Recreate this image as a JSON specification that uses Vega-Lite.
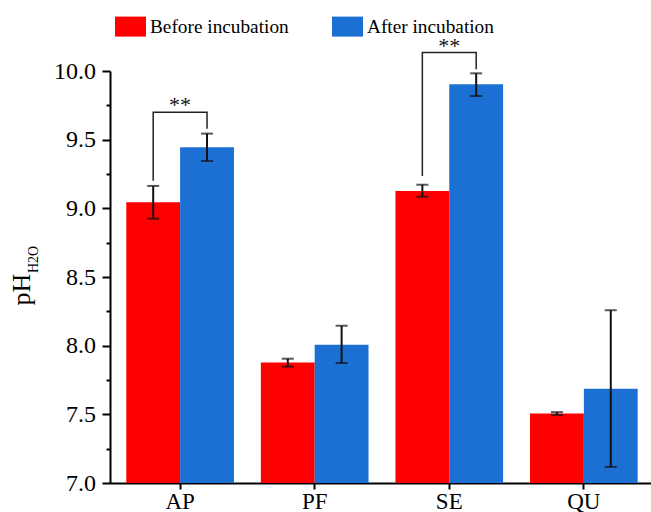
{
  "$schema": "https://vega.github.io/schema/vega-lite/v6.json",
  "width": 541,
  "height": 412,
  "autosize": {"type": "none"},
  "padding": {"left": 110, "top": 71, "right": 0, "bottom": 29},
  "config": {"font": "Liberation Serif", "view": {"stroke": null}, "axis": {"grid": false}},
  "datasets": {
    "bars": [
      {"site": "AP", "group": "Before incubation", "mean": 9.044, "lo": 8.925, "hi": 9.163},
      {"site": "AP", "group": "After incubation", "mean": 9.444, "lo": 9.345, "hi": 9.544},
      {"site": "PF", "group": "Before incubation", "mean": 7.877, "lo": 7.847, "hi": 7.905},
      {"site": "PF", "group": "After incubation", "mean": 8.007, "lo": 7.874, "hi": 8.145},
      {"site": "SE", "group": "Before incubation", "mean": 9.127, "lo": 9.085, "hi": 9.172},
      {"site": "SE", "group": "After incubation", "mean": 9.903, "lo": 9.818, "hi": 9.983},
      {"site": "QU", "group": "Before incubation", "mean": 7.506, "lo": 7.495, "hi": 7.516},
      {"site": "QU", "group": "After incubation", "mean": 7.687, "lo": 7.117, "hi": 8.258}
    ],
    "brackets": [
      {"site": "AP", "group": "Before incubation", "y": 9.2, "k": 1},
      {"site": "AP", "group": "Before incubation", "y": 9.7, "k": 2},
      {"site": "AP", "group": "After incubation", "y": 9.7, "k": 3},
      {"site": "AP", "group": "After incubation", "y": 9.58, "k": 4},
      {"site": "SE", "group": "Before incubation", "y": 9.235, "k": 1},
      {"site": "SE", "group": "Before incubation", "y": 10.134, "k": 2},
      {"site": "SE", "group": "After incubation", "y": 10.134, "k": 3},
      {"site": "SE", "group": "After incubation", "y": 10.012, "k": 4}
    ],
    "stars": [
      {"site": "AP", "y": 9.7, "label": "**"},
      {"site": "SE", "y": 10.134, "label": "**"}
    ]
  },
  "resolve": {"axis": {"y": "independent"}},
  "layer": [
    {
      "data": {"name": "bars"},
      "mark": {"type": "bar"},
      "encoding": {
        "x": {
          "field": "site", "type": "nominal", "sort": ["AP", "PF", "SE", "QU"],
          "scale": {"paddingInner": 0.2, "paddingOuter": 0.11, "align": 0.55},
          "axis": {"title": null, "labelFontSize": 23, "labelColor": "black", "labelAngle": 0, "tickSize": 6, "tickWidth": 2, "tickColor": "black", "domainWidth": 2, "domainColor": "black", "labelPadding": 1}
        },
        "xOffset": {"field": "group", "type": "nominal", "sort": ["Before incubation", "After incubation"], "scale": {"paddingInner": 0, "paddingOuter": 0}},
        "y": {
          "field": "mean", "type": "quantitative",
          "scale": {"domain": [7, 10], "zero": false, "nice": false},
          "axis": {
            "title": "pH", "titleFontSize": 26, "titleFontWeight": "normal", "titleColor": "black",
            "titleAngle": 270, "titleAlign": "center", "titleBaseline": "alphabetic", "titleX": -81, "titleY": 218,
            "values": [7, 7.25, 7.5, 7.75, 8, 8.25, 8.5, 8.75, 9, 9.25, 9.5, 9.75, 10],
            "labelExpr": "datum.value % 0.5 === 0 ? format(datum.value, '.1f') : ''",
            "labelFontSize": 24, "labelColor": "black", "labelPadding": 6.5, "labelFlush": false, "labelOverlap": false,
            "tickSize": {"condition": {"test": "datum.value % 0.5 !== 0", "value": 4}, "value": 8},
            "tickColor": "black", "tickWidth": 2, "domainColor": "black", "domainWidth": 2
          }
        },
        "y2": {"datum": 7},
        "color": {
          "field": "group", "type": "nominal",
          "scale": {"domain": ["Before incubation", "After incubation"], "range": ["#FF0000", "#1C6FD3"]},
          "legend": {
            "title": null, "orient": "none", "direction": "horizontal", "legendX": 5, "legendY": -60,
            "symbolType": "M-1,-0.645H1V0.645H-1Z", "symbolSize": 961, "symbolStrokeWidth": 0, "symbolOpacity": 1,
            "labelFontSize": 19.3, "labelColor": "black", "labelOffset": 4, "columnPadding": 43, "padding": 0
          }
        }
      }
    },
    {
      "data": {"name": "bars"},
      "mark": {"type": "rule", "strokeWidth": 2, "color": "#111111"},
      "encoding": {
        "x": {"field": "site", "type": "nominal", "sort": ["AP", "PF", "SE", "QU"]},
        "xOffset": {"field": "group", "type": "nominal", "sort": ["Before incubation", "After incubation"]},
        "y": {
          "field": "lo", "type": "quantitative",
          "axis": {"orient": "left", "title": "H2O", "titleFontSize": 14, "titleFontWeight": "normal", "titleColor": "black",
            "titleAngle": 270, "titleAlign": "center", "titleBaseline": "alphabetic", "titleX": -72.5, "titleY": 188,
            "domain": false, "ticks": false, "labels": false}
        },
        "y2": {"field": "hi"}
      }
    },
    {
      "data": {"name": "bars"},
      "mark": {"type": "tick", "size": 12, "thickness": 2, "color": "#111111", "orient": "horizontal"},
      "encoding": {
        "x": {"field": "site", "type": "nominal", "sort": ["AP", "PF", "SE", "QU"]},
        "xOffset": {"field": "group", "type": "nominal", "sort": ["Before incubation", "After incubation"]},
        "y": {"field": "lo", "type": "quantitative", "axis": null}
      }
    },
    {
      "data": {"name": "bars"},
      "mark": {"type": "tick", "size": 12, "thickness": 2, "color": "#111111", "orient": "horizontal"},
      "encoding": {
        "x": {"field": "site", "type": "nominal", "sort": ["AP", "PF", "SE", "QU"]},
        "xOffset": {"field": "group", "type": "nominal", "sort": ["Before incubation", "After incubation"]},
        "y": {"field": "hi", "type": "quantitative", "axis": null}
      }
    },
    {
      "data": {"name": "brackets"},
      "mark": {"type": "line", "color": "#222222", "strokeWidth": 1.5, "strokeJoin": "miter", "strokeCap": "butt"},
      "encoding": {
        "x": {"field": "site", "type": "nominal", "sort": ["AP", "PF", "SE", "QU"]},
        "xOffset": {"field": "group", "type": "nominal", "sort": ["Before incubation", "After incubation"]},
        "y": {"field": "y", "type": "quantitative", "axis": null},
        "detail": {"field": "site"},
        "order": {"field": "k", "type": "quantitative"}
      }
    },
    {
      "data": {"name": "stars"},
      "mark": {"type": "text", "fontSize": 22, "baseline": "alphabetic", "dy": 0, "color": "#111111"},
      "encoding": {
        "x": {"field": "site", "type": "nominal", "sort": ["AP", "PF", "SE", "QU"]},
        "y": {"field": "y", "type": "quantitative", "axis": null},
        "text": {"field": "label"}
      }
    }
  ]
}
